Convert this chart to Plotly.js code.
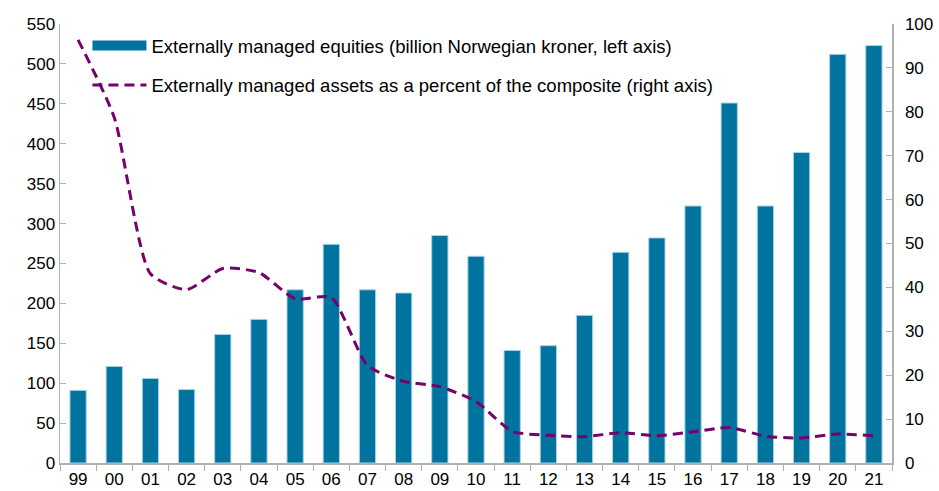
<!DOCTYPE html>
<html><head><meta charset="utf-8">
<script src="https://cdn.plot.ly/plotly-3.0.1.min.js"></script>
<style>html,body{margin:0;padding:0;background:#fff}#c{width:939px;height:491px}</style>
</head><body><div id="c"></div>
<script>
const years = ["99","00","01","02","03","04","05","06","07","08","09","10","11","12","13","14","15","16","17","18","19","20","21"];
const equities = [91,121,106,92,161,180,217,274,217,213,285,259,141,147,185,264,282,322,451,322,389,512,523];
const pctComposite = [96.4,78.7,43.1,39.5,44.3,43.4,37.4,37.7,22.2,18.6,17.4,14.0,7.2,6.3,6.0,6.9,6.2,7.1,8.1,6.1,5.7,6.6,6.2];
const barName = "Externally managed equities (billion Norwegian kroner, left axis)";
const lineName = "Externally managed assets as a percent of the composite (right axis)";

const font = {family:"Liberation Sans, Arial, sans-serif", size:17, color:"#000"};
const teal = "#00739e";
const data = [
 {type:"bar", x:years, y:equities, name:barName, marker:{color:teal, line:{color:"#a9d4e6", width:1}}, showlegend:false},
 {type:"scatter", mode:"lines", x:[null], y:[null], name:barName, line:{color:teal, width:11}, legend:"legend", hoverinfo:"skip"},
 {type:"scatter", mode:"lines", x:years, y:pctComposite, yaxis:"y2", name:lineName,
  line:{color:"#77006a", width:3, dash:"10px,6px", shape:"spline", smoothing:0.6}, legend:"legend2"}
];
const legBase = {bgcolor:"rgba(0,0,0,0)", font:{family:font.family,size:18.5,color:"#000"}, itemwidth:54, xanchor:"left", yanchor:"middle", xref:"paper", yref:"paper"};
const layout = {
 width:939, height:491, margin:{l:60, r:47, t:24, b:28},
 paper_bgcolor:"#fff", plot_bgcolor:"#fff", font:font, bargap:0.55, showlegend:true,
 xaxis:{type:"category", showline:true, linecolor:"#b0b0b0", linewidth:1.5, ticks:"outside", tickson:"boundaries", ticklen:6, tickcolor:"#b0b0b0", tickfont:font, showgrid:false, zeroline:false},
 yaxis:{range:[0,550], dtick:50, showline:true, linecolor:"#b0b0b0", linewidth:1.5, ticks:"inside", ticklen:6, tickcolor:"#b0b0b0", showgrid:false, zeroline:false, tickfont:font},
 yaxis2:{range:[0,100], dtick:10, overlaying:"y", side:"right", showline:true, linecolor:"#b0b0b0", linewidth:1.5, ticks:"inside", ticklen:6, tickcolor:"#b0b0b0", showgrid:false, zeroline:false, tickfont:font, ticklabelstandoff:8},
 legend:Object.assign({}, legBase, {x:0.033, y:0.95}),
 legend2:Object.assign({}, legBase, {x:0.033, y:0.86})
};
Plotly.newPlot("c", data, layout, {displayModeBar:false, staticPlot:true});
</script></body></html>
